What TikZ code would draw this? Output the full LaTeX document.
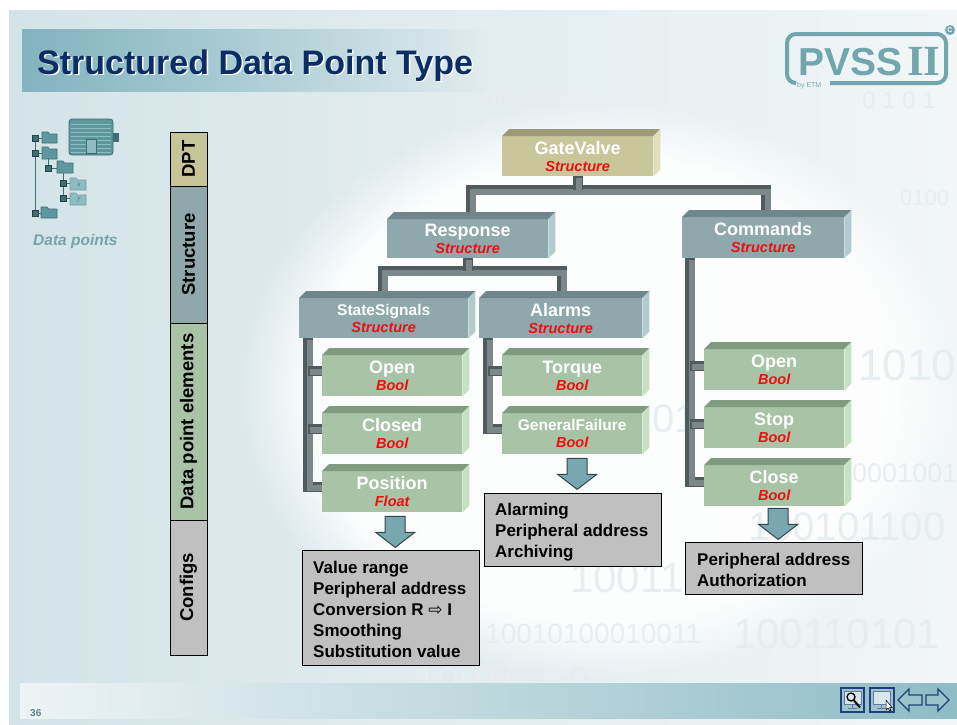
\documentclass[tikz,border=0pt]{standalone}
\usepackage{fontspec}
\setmainfont{Liberation Sans}
\newfontfamily\arrowfont{DejaVu Sans}
\newfontfamily\romanfont{Liberation Serif}
\usetikzlibrary{calc,fadings}

\definecolor{bgL}{HTML}{D3E4E8}
\definecolor{bgR}{HTML}{F2F6F7}
\definecolor{titleT}{HTML}{83B4C0}
\definecolor{navy}{HTML}{0B2D63}
\definecolor{logoC}{HTML}{72A6AE}
\definecolor{khF}{HTML}{C9C69C}
\definecolor{khT}{HTML}{9D9A78}
\definecolor{khS}{HTML}{E1DFB9}
\definecolor{stF}{HTML}{8EA8AC}
\definecolor{stT}{HTML}{6F878B}
\definecolor{stS}{HTML}{B3CBCE}
\definecolor{elF}{HTML}{A8C3A5}
\definecolor{elT}{HTML}{819B80}
\definecolor{elS}{HTML}{C7E0C3}
\definecolor{tred}{HTML}{EE0F0F}
\definecolor{pipeD}{HTML}{4F5B5D}
\definecolor{pipeL}{HTML}{7B8789}
\definecolor{arF}{HTML}{78A7B0}
\definecolor{arD}{HTML}{33474B}
\definecolor{cfgF}{HTML}{C0C0C0}
\definecolor{dptC}{HTML}{C8C49A}
\definecolor{dpC}{HTML}{78A3AB}
\definecolor{icoF}{HTML}{5F979F}
\definecolor{icoD}{HTML}{3E6F77}
\definecolor{icoL}{HTML}{8FBCC3}
\definecolor{digitC}{HTML}{E8EEF0}
\definecolor{navB}{HTML}{213F7E}
\definecolor{navF}{HTML}{9EC4CB}

\tikzfading[name=fadeeast,left color=transparent!0,right color=transparent!100]

\pgfdeclarelayer{bg}
\pgfdeclarelayer{pipes}
\pgfsetlayers{bg,pipes,main}

% 3D top and right faces of a box node
\newcommand\boxfaces[4]{%
  \fill[#3] (#1.north west) -- ++(#2,-#2) -- ($(#1.north east)+(#2,-#2)$) -- (#1.north east) -- cycle;
  \fill[#4] (#1.north east) -- ++(#2,-#2) -- ($(#1.south east)+(#2,-#2)$) -- (#1.south east) -- cycle;}
% extruded connector bar
\newcommand\pipe[1]{\draw[pipeback] #1; \draw[pipefront] #1;}
% element name + red type
\newcommand\nm[2]{#1\\{\fontsize{14.5}{17}\selectfont\itshape\color{tred}#2}}
\newcommand\nms[2]{{\fontsize{15.5}{17}\selectfont#1}\\{\fontsize{14.5}{17}\selectfont\itshape\color{tred}#2}}
% down block arrow below a node
\newcommand\blockarrow[1]{%
  \begin{scope}[shift={#1}]
    \filldraw[blockarr] (-10,0) -- (10,0) -- (10,16) -- (19.5,16) -- (0,31) -- (-19.5,16) -- (-10,16) -- cycle;
  \end{scope}}
% small folder icon
\newcommand\folder[5]{%
  \filldraw[#1] (#2,#3) -- (#2+6,#3) -- (#2+7.5,#3+2) -- (#2+#4,#3+2) -- (#2+#4,#3+#5) -- (#2,#3+#5) -- cycle;}

\begin{document}
\begin{tikzpicture}[x=1pt,y=-1pt,
  face/.style={anchor=north west,inner sep=0pt,align=center,text=white,
    font=\bfseries\fontsize{18}{17}\selectfont},
  khakibox/.style={face,fill=khF},
  strbox/.style={face,fill=stF},
  elbox/.style={face,fill=elF},
  cfgbox/.style={anchor=north west,draw=black,line width=1.1pt,fill=cfgF,inner sep=0pt},
  cfgtext/.style={anchor=north west,align=left,inner sep=0pt,
    font=\bfseries\fontsize{17}{21}\selectfont},
  barseg/.style={draw=black,line width=1pt,rotate=90,minimum height=37pt,inner sep=0pt,
    font=\bfseries\fontsize{18.5}{20}\selectfont},
  pipeback/.style={line width=10pt,draw=pipeD,line join=miter},
  pipefront/.style={line width=6pt,draw=pipeL,line join=miter,
    transform canvas={shift={(1.5pt,-1.5pt)}}},
  blockarr/.style={fill=arF,draw=arD,line width=1pt,line join=miter},
  digits/.style={text=digitC,inner sep=0pt,anchor=base west},
  fold/.style={fill=icoF,draw=icoD,line width=.6pt},
  foldl/.style={fill=icoL,draw=icoD!70,line width=.6pt},
  navbtn/.style={draw=navB,line width=1.3pt,fill=navF}
]
\useasboundingbox (0,0) rectangle (957,724);

\begin{pgfonlayer}{bg}
  \fill[white] (0,0) rectangle (957,724);
  \shade[left color=bgL,right color=bgR] (9,10) rectangle (957,724);
  \fill[white,path fading=circle with fuzzy edge 20 percent,fill opacity=.9]
    (600,390) ellipse [x radius=360pt,y radius=290pt];
  % faint binary numbers
  \node[digits,font=\fontsize{24}{24}\selectfont] at (470,107) {100101001};
  \node[digits,font=\fontsize{24}{24}\selectfont] at (862,108) {0 1 0 1};
  \node[digits,font=\fontsize{22}{22}\selectfont] at (900,205) {0100};
  \node[digits,font=\fontsize{44}{44}\selectfont] at (858,380) {1010};
  \node[digits,font=\fontsize{40}{40}\selectfont] at (652,432) {01};
  \node[digits,font=\fontsize{27}{27}\selectfont] at (852,482) {0001001};
  \node[digits,font=\fontsize{40}{40}\selectfont,text height=29pt,text depth=0pt] at (748,540) {100101100};
  \node[digits,font=\fontsize{42}{42}\selectfont] at (570,592) {10011};
  \node[digits,font=\fontsize{28}{28}\selectfont] at (485,643) {10010100010011};
  \node[digits,font=\fontsize{42}{42}\selectfont] at (733,648) {100110101};
  \node[digits,font=\fontsize{40}{40}\selectfont] at (415,695) {10010110};
  % title band
  \fill[titleT,path fading=fadeeast] (22,29) rectangle (490,92);
  % footer band
  \shade[left color=white!85!titleT,right color=titleT!90!white] (20,683) rectangle (957,718);
\end{pgfonlayer}

% title
\node[anchor=base west,inner sep=0pt,text=white,font=\bfseries\fontsize{34}{34}\selectfont]
  at (38.5,75.5) {Structured Data Point Type};
\node[anchor=base west,inner sep=0pt,text=navy,font=\bfseries\fontsize{34}{34}\selectfont]
  (title) at (37,74) {Structured Data Point Type};

% logo
\draw[logoC,line width=4pt,rounded corners=9pt]
  (830,83) -- (946,83) -- (946,34) -- (787,34) -- (787,83) -- (794,83);
\node[anchor=base west,inner sep=0pt,text=logoC,font=\bfseries\fontsize{39}{39}\selectfont,text depth=0pt]
  (pvss) at (798,75) {PVSS};
\node[anchor=base west,inner sep=0pt,text=logoC,font=\romanfont\bfseries\fontsize{43}{43}\selectfont,text depth=0pt]
  (pvii) at (907,75) {II};
\node[anchor=base west,inner sep=0pt,text=logoC,font=\fontsize{7}{7}\selectfont]
  (etm) at (797,87) {by ETM};
\fill[logoC] (950,30) circle (5pt);
\node[text=white,inner sep=0pt,font=\bfseries\fontsize{7}{7}\selectfont] (copy) at (950,30) {C};

% data point icon
\draw[icoD,line width=1pt] (35,138) -- (35,213) (48,153) -- (48,168) (63,173) -- (63,198);
\draw[icoD,line width=1pt] (35,138) -- (42,138) (35,153) -- (42,153) (35,213) -- (41,213)
  (48,168) -- (57,168) (63,183) -- (70,183) (63,198) -- (70,198);
\foreach \px/\py in {35/138,35/153,35/213,48/168,63/183,63/198}
  \filldraw[fill=icoD,draw=icoD!60!black,line width=.4pt] (\px-3,\py-3) rectangle (\px+3,\py+3);
\folder{fold}{42}{132}{15}{11}
\folder{fold}{42}{147}{15}{12}
\folder{fold}{57}{161}{16}{12}
\folder{foldl}{70}{178}{16}{12}
\folder{foldl}{70}{193}{16}{12}
\folder{fold}{41}{207}{16}{11}
\node[text=icoD,inner sep=0pt,font=\romanfont\itshape\fontsize{7}{7}\selectfont] at (79,185) {x};
\node[text=icoD,inner sep=0pt,font=\romanfont\itshape\fontsize{7}{7}\selectfont] at (79,200) {y};
\filldraw[fill=icoF,draw=icoD,line width=.8pt,rounded corners=3pt] (69,119) rectangle (113,155);
\foreach \fy in {124,128,...,152} \draw[icoL,line width=1pt] (71,\fy) -- (111,\fy);
\filldraw[fill=icoL,draw=icoD,line width=.6pt] (86,139) rectangle (96,153);
\fill[icoD] (113,133) rectangle (119,142);
\node[anchor=base west,inner sep=0pt,text=dpC,font=\bfseries\itshape\fontsize{15.5}{16}\selectfont]
  (dplabel) at (33,245) {Data points};

% level bar
\node[barseg,fill=dptC,minimum width=54pt] (lvdpt) at (188.5,159) {DPT};
\node[barseg,fill=stF,minimum width=137pt] (lvstr) at (188.5,254.5) {Structure};
\node[barseg,fill=elF,minimum width=197pt] (lvdpe) at (188.5,421.5) {Data point elements};
\node[barseg,fill=cfgF,minimum width=135pt] (lvcfg) at (188.5,587.5) {Configs};

% boxes
\node[khakibox,minimum width=151pt,minimum height=40pt] (gv) at (502,136) {\nm{GateValve}{Structure}};
\node[strbox,minimum width=161pt,minimum height=39pt] (resp) at (387,219) {\nm{Response}{Structure}};
\node[strbox,minimum width=162pt,minimum height=41pt] (cmd) at (682,217) {\nm{Commands}{Structure}};
\node[strbox,minimum width=169pt,minimum height=40pt] (ss) at (299,298) {\nms{StateSignals}{Structure}};
\node[strbox,minimum width=163pt,minimum height=40pt] (al) at (479,298) {\nm{Alarms}{Structure}};
\node[elbox,minimum width=140pt,minimum height=41pt] (o1) at (322,355) {\nm{Open}{Bool}};
\node[elbox,minimum width=140pt,minimum height=41pt] (c1) at (322,413) {\nm{Closed}{Bool}};
\node[elbox,minimum width=140pt,minimum height=41pt] (p1) at (322,471) {\nm{Position}{Float}};
\node[elbox,minimum width=140pt,minimum height=41pt] (tq) at (502,355) {\nm{Torque}{Bool}};
\node[elbox,minimum width=140pt,minimum height=41pt] (gf) at (502,413) {\nms{GeneralFailure}{Bool}};
\node[elbox,minimum width=140pt,minimum height=41pt] (o2) at (704,349) {\nm{Open}{Bool}};
\node[elbox,minimum width=140pt,minimum height=41pt] (st) at (704,407) {\nm{Stop}{Bool}};
\node[elbox,minimum width=140pt,minimum height=41pt] (cl) at (704,465) {\nm{Close}{Bool}};

\boxfaces{gv}{7}{khT}{khS}
\foreach \b in {resp,cmd,ss,al} {\boxfaces{\b}{7}{stT}{stS}}
\foreach \b in {o1,c1,p1,tq,gf,o2,st,cl} {\boxfaces{\b}{7}{elT}{elS}}

% connector bars
\begin{pgfonlayer}{pipes}
  \coordinate (b1l) at (471,190);
  \coordinate (b1r) at (766,190);
  \pipe{(resp.north -| b1l) -- (b1l) -- (b1r) -- (cmd.north -| b1r)}
  \pipe{(gv.south) -- (gv.south |- b1l)}
  \coordinate (b2l) at (383,271);
  \coordinate (b2r) at (562,271);
  \pipe{(ss.north -| b2l) -- (b2l) -- (b2r) -- (al.north -| b2r)}
  \pipe{(resp.south) -- (resp.south |- b2l)}
  % StateSignals elements
  \coordinate (s1) at (308,338);
  \coordinate (ko1) at ($(o1.west)+(0,-5)$);
  \coordinate (kc1) at ($(c1.west)+(0,-5)$);
  \coordinate (kp1) at ($(p1.west)+(0,-5)$);
  \pipe{(ss.south -| s1) |- (kp1)}
  \pipe{(s1 |- ko1) -- (ko1)}
  \pipe{(s1 |- kc1) -- (kc1)}
  % Alarms elements
  \coordinate (s2) at (488,338);
  \coordinate (ktq) at ($(tq.west)+(0,-5)$);
  \coordinate (kgf) at ($(gf.west)+(0,-5)$);
  \pipe{(al.south -| s2) |- (kgf)}
  \pipe{(s2 |- ktq) -- (ktq)}
  % Commands elements
  \coordinate (s3) at (690,258);
  \coordinate (ko2) at ($(o2.west)+(0,-4)$);
  \coordinate (kst) at ($(st.west)+(0,-4)$);
  \coordinate (kcl) at ($(cl.west)+(0,-4)$);
  \pipe{(cmd.south -| s3) |- (kcl)}
  \pipe{(s3 |- ko2) -- (ko2)}
  \pipe{(s3 |- kst) -- (kst)}
\end{pgfonlayer}

% config arrows
\blockarrow{($(p1.south)+(3,4)$)}
\blockarrow{($(gf.south)+(5,4)$)}
\blockarrow{($(cl.south)+(4,2)$)}

% config boxes
\node[cfgbox,minimum width=177pt,minimum height=115pt] (cfgA) at (302,550) {};
\node[cfgtext] (cfgAt) at (313,560.5)
  {Value range\\Peripheral address\\Conversion R {\arrowfont\mdseries ⇨} I\\Smoothing\\Substitution value};
\node[cfgbox,minimum width=177pt,minimum height=73pt] (cfgB) at (484,493) {};
\node[cfgtext] (cfgBt) at (495,502.5) {Alarming\\Peripheral address\\Archiving};
\node[cfgbox,minimum width=177pt,minimum height=52pt] (cfgC) at (685,542) {};
\node[cfgtext] (cfgCt) at (697,552.5) {Peripheral address\\Authorization};

% footer
\node[anchor=base west,inner sep=0pt,text=dpC!80!black,font=\bfseries\fontsize{10}{10}\selectfont]
  (pageno) at (30,716) {36};
\draw[navbtn] (841,688) rectangle (864,712);
\filldraw[fill=white!60!navF,draw=navB!70,line width=.6pt] (844,691) rectangle (861,704);
\draw[navB!70,line width=.8pt] (852.5,704) -- (852.5,708) (848,708.5) -- (857,708.5);
\draw[black,line width=1.3pt] (851,697) circle (4pt);
\draw[black,line width=2pt] (854,700.5) -- (860,707.5);
\draw[navbtn] (870,688) rectangle (894,712);
\filldraw[fill=white!60!navF,draw=navB!70,line width=.6pt] (873,691) rectangle (890,704);
\draw[navB!70,line width=.8pt] (881.5,704) -- (881.5,708) (877,708.5) -- (886,708.5);
\filldraw[fill=white,draw=black,line width=.5pt] (886,700) -- (886,710) -- (888,708) -- (890,711) -- (891,710.5) -- (889.5,707.5) -- (892,707.5) -- cycle;
\filldraw[fill=navF,draw=navB,line width=1.3pt,line join=miter]
  (898,700) -- (909,689) -- (909,695) -- (922,695) -- (922,705) -- (909,705) -- (909,711) -- cycle;
\filldraw[fill=navF,draw=navB,line width=1.3pt,line join=miter]
  (949,700) -- (938,689) -- (938,695) -- (926,695) -- (926,705) -- (938,705) -- (938,711) -- cycle;
\end{tikzpicture}
\end{document}
